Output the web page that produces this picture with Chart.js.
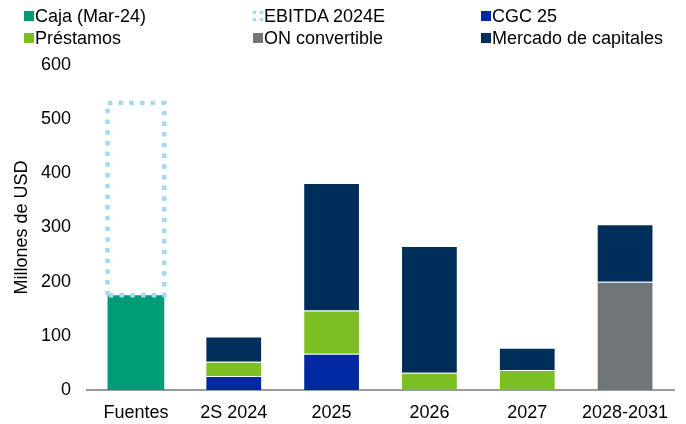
<!DOCTYPE html>
<html>
<head>
<meta charset="utf-8">
<script src="https://cdn.jsdelivr.net/npm/chart.js@4/dist/chart.umd.min.js"></script>
<style>
  html, body { margin: 0; padding: 0; background: #fff; }
  #wrap { position: relative; width: 686px; height: 424px; }
  #legend { position: absolute; left: 0; top: 0; width: 686px; height: 56px; font-family: "Liberation Sans", Arial, sans-serif; font-size: 18px; color: #000; }
  .item { position: absolute; height: 22px; line-height: 22px; white-space: nowrap; }
  .mk { position: absolute; left: 0; top: 6px; width: 10px; height: 10px; box-sizing: border-box; }
  .tx { position: absolute; left: 11px; top: 0; }
</style>
</head>
<body>
<div id="wrap">
  <canvas id="c" width="686" height="424"></canvas>
  <div id="legend"></div>
</div>
<script>
const categories = ["Fuentes", "2S 2024", "2025", "2026", "2027", "2028-2031"];
const caja      = [175, null, null, null, null, null];
const ebitda    = [355, null, null, null, null, null];
const cgc25     = [null, 26, 67, null, null, null];
const prestamos = [null, 26, 80, 32, 37, null];
const onConv    = [null, null, null, null, null, 200];
const mercado   = [null, 47, 235, 234, 41, 106];
const yTicks    = [0, 100, 200, 300, 400, 500, 600];

const colors = {
  caja: "#009B77", ebitda: "#A3D9F2", cgc: "#0028A0",
  prest: "#7BBF22", on: "#717578", merc: "#002E5B"
};
const edge = "rgba(255,255,255,0.2)";

const dottedPlugin = {
  id: "dotted",
  afterDatasetsDraw(chart) {
    const ctx = chart.ctx;
    chart.data.datasets.forEach((ds, i) => {
      if (!ds.dotted) return;
      const meta = chart.getDatasetMeta(i);
      meta.data.forEach((el, j) => {
        if (ds.data[j] == null) return;
        const p = el.getProps(["x", "y", "base", "width"], true);
        const l = p.x - p.width / 2, r = p.x + p.width / 2;
        ctx.save();
        ctx.strokeStyle = ds.dotColor;
        ctx.lineWidth = 4.5;
        ctx.setLineDash([4.5, 6.2]);
        ctx.lineCap = "butt";
        ctx.beginPath();
        ctx.moveTo(l, p.base);
        ctx.lineTo(l, p.y);
        ctx.lineTo(r, p.y);
        ctx.lineTo(r, p.base);
        ctx.lineTo(l, p.base);
        ctx.stroke();
        ctx.restore();
      });
    });
  }
};

const chart = new Chart(document.getElementById("c"), {
  type: "bar",
  data: {
    labels: categories,
    datasets: [
      { label: "Caja (Mar-24)", data: caja, backgroundColor: colors.caja, borderColor: edge, borderWidth: 0 },
      { label: "EBITDA 2024E", data: ebitda, backgroundColor: "rgba(0,0,0,0)", borderWidth: 0, dotted: true, dotColor: colors.ebitda },
      { label: "CGC 25", data: cgc25, backgroundColor: colors.cgc, borderColor: edge, borderWidth: 1 },
      { label: "Préstamos", data: prestamos, backgroundColor: colors.prest, borderColor: edge, borderWidth: 1 },
      { label: "ON convertible", data: onConv, backgroundColor: colors.on, borderColor: edge, borderWidth: 1 },
      { label: "Mercado de capitales", data: mercado, backgroundColor: colors.merc, borderColor: edge, borderWidth: 1 }
    ]
  },
  options: {
    responsive: false,
    animation: false,
    events: [],
    layout: { padding: { top: 65, right: 12, bottom: 0, left: 0 } },
    datasets: { bar: { categoryPercentage: 1, barPercentage: 0.58 } },
    plugins: { legend: { display: false }, tooltip: { enabled: false } },
    scales: {
      x: {
        stacked: true,
        grid: { display: false, drawTicks: false },
        border: { display: true, color: "#9a9a9a", width: 2 },
        ticks: { color: "#000", font: { family: "Liberation Sans", size: 18 }, padding: 12 },
        afterFit(s) { s.height = 34; }
      },
      y: {
        stacked: true,
        min: 0, max: 600,
        afterBuildTicks(s) { s.ticks = yTicks.map(v => ({ value: v })); },
        grid: { display: false, drawTicks: false },
        border: { display: false },
        ticks: { color: "#000", font: { family: "Liberation Sans", size: 18 }, padding: 16 },
        title: { display: true, text: "Millones de USD", color: "#000", font: { family: "Liberation Sans", size: 18 }, padding: { top: 11, bottom: 0 } },
        afterFit(s) { s.width = 87; }
      }
    }
  },
  plugins: [dottedPlugin]
});

// HTML legend built from the chart's datasets (3 columns x 2 rows)
const legend = document.getElementById("legend");
const colX = [24, 253, 481];
const rowY = [5, 27];
chart.data.datasets.forEach((ds, i) => {
  const col = i % 3, row = Math.floor(i / 3);
  const it = document.createElement("div");
  it.className = "item";
  it.style.left = colX[col] + "px";
  it.style.top = rowY[row] + "px";
  const mk = document.createElement("span");
  mk.className = "mk";
  if (ds.dotted) {
    mk.style.border = "3px dotted " + ds.dotColor;
  } else {
    mk.style.background = ds.backgroundColor;
  }
  const tx = document.createElement("span");
  tx.className = "tx";
  tx.textContent = ds.label;
  it.appendChild(mk); it.appendChild(tx);
  legend.appendChild(it);
});
</script>
</body>
</html>
